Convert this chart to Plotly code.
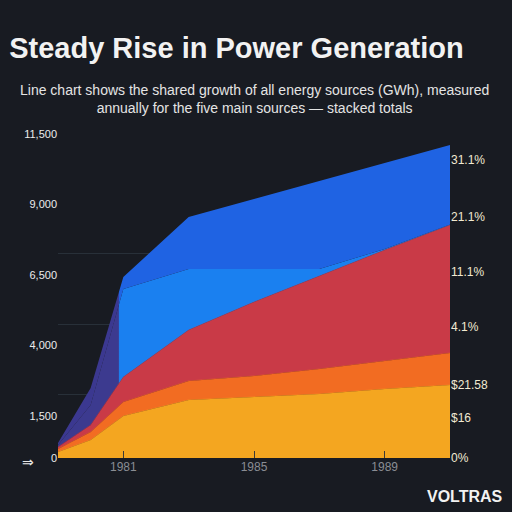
import plotly.graph_objects as go

years = [1979, 1980, 1981, 1983, 1985, 1987, 1989, 1991]
solar = [213, 640, 1490, 2060, 2165, 2270, 2450, 2590]
wind = [107, 284, 497, 675, 746, 888, 994, 1136]
hydro = [71, 249, 888, 1810, 2627, 3300, 3940, 4544]
nuclear = [71, 710, 3124, 2166, 1170, 250, 35, 18]
gas = [71, 604, 426, 1846, 2485, 3124, 3053, 2822]

left_ticks = [0, 1500, 4000, 6500, 9000, 11500]
left_labels = ["0", "1,500", "4,000", "6,500", "9,000", "11,500"]
grid_vals = [2250, 4750, 7250]
right_ticks = [10580, 8560, 6600, 4650, 2590, 1420, 0]
right_labels = ["31.1%", "21.1%", "11.1%", "4.1%", "$21.58", "$16", "0%"]
x_ticks = [1981, 1985, 1989]

BG = "#181b22"

fig = go.Figure()
series = [
    ("Solar", solar, "#f4a620", None),
    ("Wind", wind, "#f26c22", None),
    ("Hydro", hydro, "#c93a47", None),
    ("Nuclear", nuclear, "#1a80f0", "#3c3a8f"),
    ("Gas", gas, "#1f63e3", "#3b3890"),
]
for name, vals, col, left_col in series:
    kw = dict(x=years, y=vals, name=name, stackgroup="one", mode="lines",
              line=dict(width=0.5, color=col), fillcolor=col)
    if left_col:
        kw["line"] = dict(width=0)
        kw["fillgradient"] = dict(
            type="horizontal",
            colorscale=[[0, left_col], [0.154, left_col], [0.157, col], [1, col]],
        )
    fig.add_trace(go.Scatter(**kw))

# invisible trace to anchor right axis
fig.add_trace(go.Scatter(x=[years[0]], y=[0], yaxis="y2", mode="markers",
                         marker=dict(opacity=0), showlegend=False, hoverinfo="skip"))

fig.update_layout(
    width=512, height=512,
    paper_bgcolor=BG, plot_bgcolor=BG,
    margin=dict(l=58, r=62, t=120, b=54),
    showlegend=False,
    font=dict(family="Liberation Sans, Arial, sans-serif", color="#e6e6e6"),
    title=dict(text="<b>Steady Rise in Power Generation</b>", x=0.018, xanchor="left",
               y=0.906, yanchor="middle",
               font=dict(size=29, color="#f2f2f2", family="Liberation Sans, Arial, sans-serif")),
    xaxis=dict(range=[years[0], years[-1]], tickvals=x_ticks, ticks="inside",
               ticklen=7, tickcolor="#3a3a3a", showgrid=False, zeroline=False,
               showline=False, tickfont=dict(size=12, color="#8a8d94")),
    yaxis=dict(range=[0, 12000], tickvals=left_ticks, ticktext=left_labels,
               showgrid=False, zeroline=False,
               minor=dict(tickvals=grid_vals, showgrid=True, gridcolor="#283039"),
               tickfont=dict(size=11, color="#ececec")),
    yaxis2=dict(range=[0, 12000], overlaying="y", side="right", tickvals=right_ticks,
                ticktext=right_labels, showgrid=False, zeroline=False,
                tickfont=dict(size=12, color="#f1ead2")),
    annotations=[
        dict(text="Line chart shows the shared growth of all energy sources (GWh), measured<br>"
                  "annually for the five main sources — stacked totals",
             xref="paper", yref="paper", x=0.5, y=1.062, xanchor="center", yanchor="middle",
             showarrow=False, font=dict(size=14, color="#e4e4e4"), align="center"),
        dict(text="⇒", xref="paper", yref="paper", x=-0.097, y=-0.04, showarrow=False,
             font=dict(size=14, color="#e8e8e8")),
        dict(text="<b>VOLTRAS</b>", xref="paper", yref="paper", x=1.14, y=-0.115,
             xanchor="right", yanchor="middle", showarrow=False,
             font=dict(size=16, color="#f2f2f2")),
    ],
)

fig.write_html("out.html", config={"displayModeBar": False},
               post_script="document.body.style.margin='0';")
